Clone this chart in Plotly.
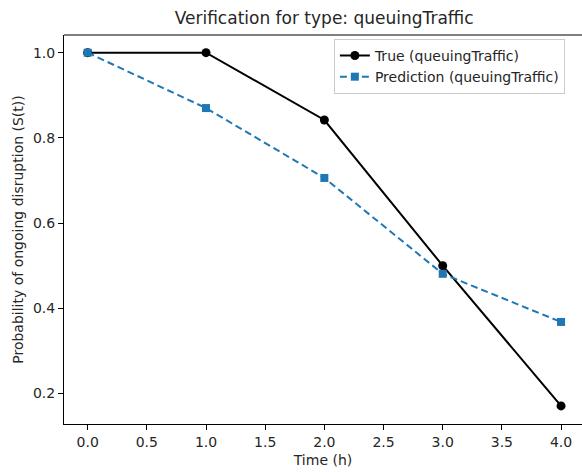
import plotly.graph_objects as go

time_h = [0, 1, 2, 3, 4]
true_vals = [1.0, 1.0, 0.842, 0.5, 0.171]
pred_vals = [1.0, 0.870, 0.706, 0.481, 0.368]
x_ticks = [0.0, 0.5, 1.0, 1.5, 2.0, 2.5, 3.0, 3.5, 4.0]
y_ticks = [0.2, 0.4, 0.6, 0.8, 1.0]

FONT = "DejaVu Sans"

fig = go.Figure()
fig.add_trace(go.Scatter(
    x=time_h, y=true_vals, mode="lines+markers",
    name="True (queuingTraffic)",
    line=dict(color="black", width=2),
    marker=dict(symbol="circle", size=9, color="black"),
))
fig.add_trace(go.Scatter(
    x=time_h, y=pred_vals, mode="lines+markers",
    name="Prediction (queuingTraffic)",
    line=dict(color="#1f77b4", width=2, dash="7px,4px"),
    marker=dict(symbol="square", size=8, color="#1f77b4"),
))

axis_common = dict(
    showgrid=False, zeroline=False, showline=True, linecolor="black", linewidth=1,
    ticks="outside", ticklen=5, tickwidth=1, tickcolor="black",
    tickfont=dict(family=FONT, size=14, color="#262626"),
    automargin=False,
)

fig.update_layout(
    width=582, height=472,
    margin=dict(l=64, r=0, t=35, b=48),
    paper_bgcolor="white", plot_bgcolor="white",
    font=dict(family=FONT, size=14, color="#262626"),
    title=dict(text="Verification for type: queuingTraffic", x=0.557, xanchor="center",
               y=0.962, yanchor="middle", font=dict(family=FONT, size=17, color="#262626")),
    xaxis=dict(range=[-0.2, 4.177], tickvals=x_ticks, ticktext=[f"{v:.1f}" for v in x_ticks],
               title=dict(text="Time (h)", standoff=6, font=dict(family=FONT, size=14)),
               **axis_common),
    yaxis=dict(range=[0.1285, 1.0415], tickvals=y_ticks, ticktext=[f"{v:.1f}" for v in y_ticks],
               title=dict(text="Probability of ongoing disruption (S(t))", standoff=6,
                          font=dict(family=FONT, size=14)),
               **axis_common),
    legend=dict(x=0.521, y=0.99, xanchor="left", yanchor="top",
                bgcolor="rgba(255,255,255,0.8)", bordercolor="#cccccc", borderwidth=1,
                font=dict(family=FONT, size=14, color="#262626"), itemwidth=30,
                tracegroupgap=0),
    shapes=[dict(type="line", xref="paper", yref="paper", x0=0, x1=1, y0=1, y1=1,
                 line=dict(color="black", width=1))],
)

fig.write_html("out.html")
